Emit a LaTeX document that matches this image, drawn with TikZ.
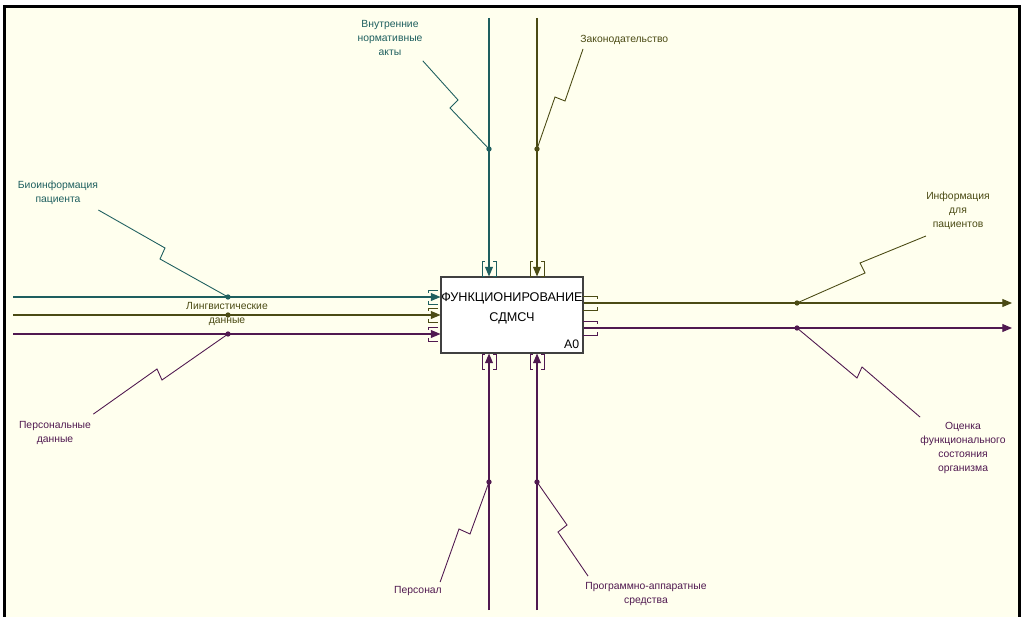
\documentclass[tikz,border=0pt]{standalone}
\usepackage{fontspec}
\setmainfont{Liberation Sans}
\usetikzlibrary{arrows.meta}

\begin{document}
\begin{tikzpicture}[x=0.02cm, y=-0.02cm, >={Triangle[length=5.5pt,width=4.5pt]}]
    % Цвета стрелок: входы, управление, механизмы
    \definecolor{colorI}{RGB}{30, 95, 95}   % бирюзовый
    \definecolor{colorC}{RGB}{75, 75, 20}   % оливковый
    \definecolor{colorM}{RGB}{80, 25, 80}   % фиолетовый
    \definecolor{paper}{RGB}{255, 255, 238}

    \tikzset{
        arc/.style={line width=0.6pt},
        lead/.style={line width=0.5pt},
        lbl/.style={font=\fontsize{5.9}{7.9}\selectfont, align=center, inner sep=0pt}
    }

    % Макросы туннельных скобок
    % \tunV{x}{y_top}{color}
    \newcommand{\tunV}[3]{
        \draw[#3, line width=0.5pt] (#1-4,#2) -- (#1-7,#2) -- (#1-7,#2+15) -- (#1-4,#2+15);
        \draw[#3, line width=0.5pt] (#1+4,#2) -- (#1+7,#2) -- (#1+7,#2+15) -- (#1+4,#2+15);
    }
    % \tunH{x_tick}{x_other}{y}{color}
    \newcommand{\tunH}[4]{
        \draw[#4, line width=0.5pt] (#2,#3-7) -- (#1,#3-7) -- (#1,#3-4);
        \draw[#4, line width=0.5pt] (#2,#3+7) -- (#1,#3+7) -- (#1,#3+4);
    }

    % 0. Фон и рамка
    \useasboundingbox (0,0) rectangle (1023,617);
    \fill[paper] (6,8) rectangle (1018,617);
    \draw[line width=1.7pt] (4.5,617) -- (4.5,6.5) -- (1019.5,6.5) -- (1019.5,617);

    % 1. Блок A0
    \node[draw=black!75, fill=white, line width=0.6pt, minimum width=2.84cm,
          minimum height=1.52cm, inner sep=0pt] (box) at (512,315) {};
    \node[font=\fontsize{7.2}{11.3}\selectfont, align=center, inner sep=0pt] (title) at (512,308)
        {ФУНКЦИОНИРОВАНИЕ\\СДМСЧ};
    \node[font=\fontsize{7}{8}\selectfont, anchor=south east, inner sep=0pt] (code)
        at ([xshift=-2.3pt, yshift=2.8pt]box.south east) {A0};

    % 2. Входы
    \coordinate (i1) at (13,297);
    \coordinate (i2) at (13,315);
    \coordinate (i3) at (13,334);
    \draw[arc, colorI, ->] (i1) -- (i1 -| box.west);
    \draw[arc, colorC, ->] (i2) -- (i2 -| box.west);
    \draw[arc, colorM, ->] (i3) -- (i3 -| box.west);
    \tunH{428}{438}{297}{colorI}
    \tunH{428}{438}{315}{colorC}
    \tunH{428}{438}{334}{colorM}

    % 3. Управление
    \coordinate (c1) at (489,18);
    \coordinate (c2) at (537,18);
    \draw[arc, colorI, ->] (c1) -- (c1 |- box.north);
    \draw[arc, colorC, ->] (c2) -- (c2 |- box.north);
    \tunV{489}{261}{colorI}
    \tunV{537}{261}{colorC}

    % 4. Механизмы
    \coordinate (m1) at (489,610);
    \coordinate (m2) at (537,610);
    \draw[arc, colorM, ->] (m1) -- (m1 |- box.south);
    \draw[arc, colorM, ->] (m2) -- (m2 |- box.south);
    \tunV{489}{354}{colorM}
    \tunV{537}{354}{colorM}

    % 5. Выходы
    \coordinate (o1) at (1012,303);
    \coordinate (o2) at (1012,328);
    \draw[arc, colorC, ->] (o1 -| box.east) -- (o1);
    \draw[arc, colorM, ->] (o2 -| box.east) -- (o2);
    \tunH{597}{583}{303}{colorC}
    \tunH{597}{583}{328}{colorM}

    % 6. Подписи
    \node[lbl, text=colorI] (bio) at (58,193) {Биоинформация\\пациента};
    \node[lbl, text=colorC] (ling) at (227,314) {Лингвистические\\данные};
    \node[lbl, text=colorM] (pers) at (55,433) {Персональные\\данные};
    \node[lbl, text=colorI] (vnutr) at (390,38) {Внутренние\\нормативные\\акты};
    \node[lbl, text=colorC, anchor=west] (zakon) at (580,40) {Законодательство};
    \node[lbl, text=colorC] (info) at (958,211) {Информация\\для\\пациентов};
    \node[lbl, text=colorM] (ocenka) at (963,448) {Оценка\\функционального\\состояния\\организма};
    \node[lbl, text=colorM] (staff) at (418,591) {Персонал};
    \node[lbl, text=colorM] (hard) at (646,594) {Программно-аппаратные\\средства};

    % 7. Точки ветвления
    \coordinate (d1) at (228,297);
    \coordinate (d2) at (228,315);
    \coordinate (d3) at (228,334);
    \coordinate (d4) at (489,149);
    \coordinate (d5) at (537,149);
    \coordinate (d6) at (797,303);
    \coordinate (d7) at (797,328);
    \coordinate (d8) at (489,482);
    \coordinate (d9) at (537,482);
    \fill[colorI] (d1) circle (1.5pt);
    \fill[colorC] (d2) circle (1.5pt);
    \fill[colorM] (d3) circle (1.5pt);
    \fill[colorI] (d4) circle (1.5pt);
    \fill[colorC] (d5) circle (1.5pt);
    \fill[colorC] (d6) circle (1.5pt);
    \fill[colorM] (d7) circle (1.5pt);
    \fill[colorM] (d8) circle (1.5pt);
    \fill[colorM] (d9) circle (1.5pt);

    % 8. Выноски со "squiggle"
    \draw[lead, colorI] ([shift={(0,5)}]bio.south east) -- (165,248) -- (160,259) -- (d1);
    \draw[lead, colorM] ([shift={(2,-7)}]pers.north east) -- (157,369) -- (162,380) -- (d3);
    \draw[lead, colorI] ([shift={(0,5)}]vnutr.south east) -- (458,100) -- (450,108) -- (d4);
    \draw[lead, colorC] ([shift={(3,4)}]zakon.south west) -- (565,101) -- (555,97) -- (d5);
    \draw[lead, colorC] ([shift={(0,6)}]info.south west) -- (860,263) -- (865,273) -- (d6);
    \draw[lead, colorM] ([shift={(0,-5)}]ocenka.north west) -- (862,367) -- (857,378) -- (d7);
    \draw[lead, colorM] ([shift={(-2,-4)}]staff.north east) -- (459,529) -- (470,534) -- (d8);
    \draw[lead, colorM] ([shift={(3,-6)}]hard.north west) -- (558,532) -- (567,525) -- (d9);
\end{tikzpicture}
\end{document}
